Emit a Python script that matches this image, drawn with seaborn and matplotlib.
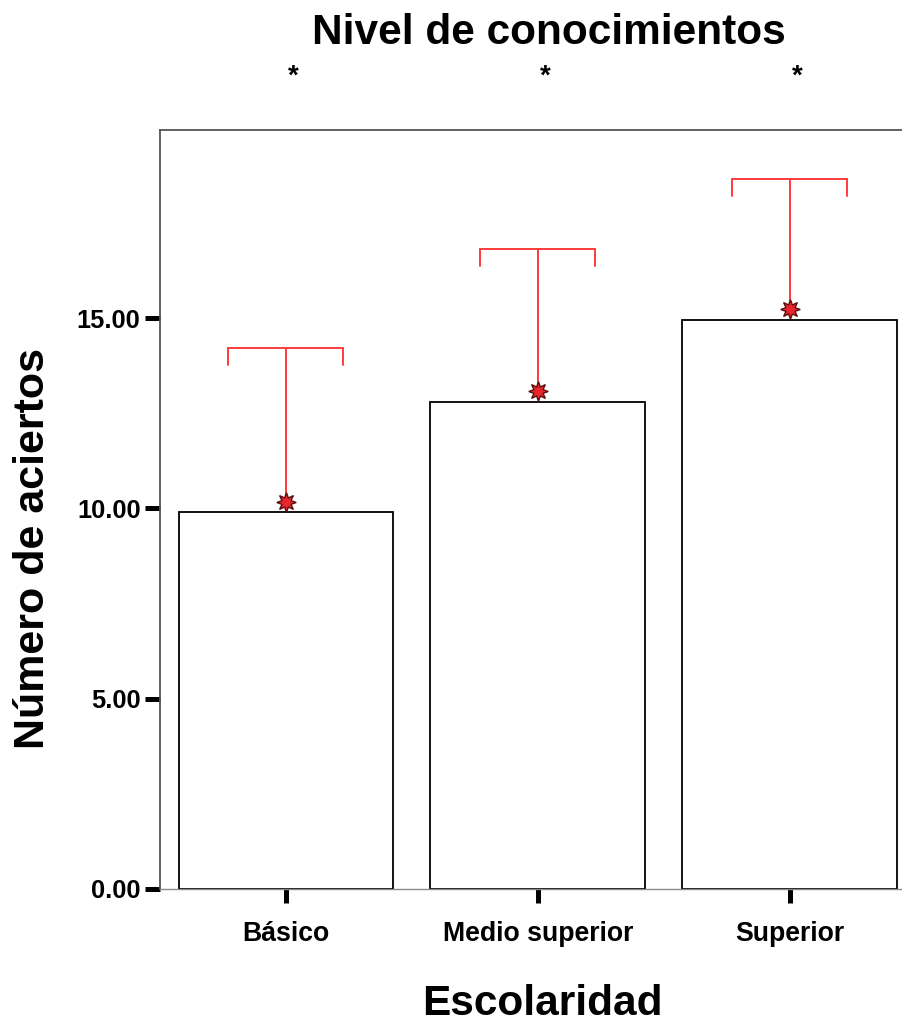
import matplotlib
matplotlib.use("Agg")
import matplotlib.pyplot as plt
import numpy as np
import pandas as pd
import seaborn as sns

# values
categories = ["Básico", "Medio superior", "Superior"]
bar_means = [9.90, 12.79, 14.95]
point_means = [10.17, 13.08, 15.24]
upper_limits = [14.21, 16.81, 18.65]
sig_marks = ["*", "*", "*"]
y_ticks = [0, 5, 10, 15]

RED = "#ff3b3b"

sns.set_style("white")
plt.rcParams["font.family"] = ["Liberation Sans", "DejaVu Sans"]
plt.rcParams["font.weight"] = "bold"
plt.rcParams["text.color"] = "black"
plt.rcParams["axes.labelcolor"] = "black"
plt.rcParams["xtick.labelcolor"] = "black"
plt.rcParams["ytick.labelcolor"] = "black"

df = pd.DataFrame({"Escolaridad": categories, "aciertos": bar_means})

fig = plt.figure(figsize=(9.03, 10.26), dpi=100)
ax = fig.add_axes([160 / 903, 1 - 889 / 1026, 755.5 / 903, 759 / 1026])

sns.barplot(data=df, x="Escolaridad", y="aciertos", color="white",
            edgecolor="black", linewidth=1.3, width=0.853, saturation=1,
            errorbar=None, ax=ax)

xs = np.arange(len(categories))
# red error line from the mean marker up to the cap
ax.vlines(xs, point_means, upper_limits, color=RED, lw=1.4, zorder=3)
cap_w = 0.228
hook = 0.45
for x, top in zip(xs, upper_limits):
    ax.plot([x - cap_w, x - cap_w, x + cap_w, x + cap_w],
            [top - hook, top, top, top - hook], color=RED, lw=1.4,
            solid_joinstyle="miter", zorder=3)
ax.plot(xs, point_means, ls="none", marker=(8, 1, 0), ms=14,
        mfc="#e8262b", mec="#5a1010", mew=1.0, zorder=4)

for x, mark in zip(xs, sig_marks):
    ax.text(x + 0.03, 21.35, mark, ha="center", va="center", fontsize=20,
            fontweight="bold", color="black", clip_on=False)

ax.set_xlim(-0.5, 2.5)
ax.set_ylim(0, 19.94)
ax.set_yticks(y_ticks)
ax.set_yticklabels([f"{v:.2f}" for v in y_ticks])

ax.tick_params(axis="y", which="major", direction="out", length=11,
               width=3.6, color="black", pad=3, labelsize=18.3, left=True)
ax.tick_params(axis="x", which="major", direction="out", length=10,
               width=3.6, color="black", pad=13, labelsize=19.2, bottom=True)
for lab in ax.get_xticklabels() + ax.get_yticklabels():
    lab.set_fontweight("bold")

for side in ["left", "top"]:
    ax.spines[side].set_color("#555555")
    ax.spines[side].set_linewidth(1.3)
ax.spines["bottom"].set_color("#8a8a8a")
ax.spines["bottom"].set_linewidth(1.0)
ax.spines["right"].set_visible(False)

ax.set_xlabel("Escolaridad", fontsize=30.5, fontweight="bold", labelpad=27)
ax.xaxis.label.set_x(0.5056)
ax.set_ylabel("Número de aciertos", fontsize=31, fontweight="bold")
ax.yaxis.set_label_coords(-0.142, 0.448)

fig.text(549 / 903, 1 - 33 / 1026, "Nivel de conocimientos", ha="center",
         va="center", fontsize=30.5, fontweight="bold")

fig.savefig("out.png", dpi=100)
